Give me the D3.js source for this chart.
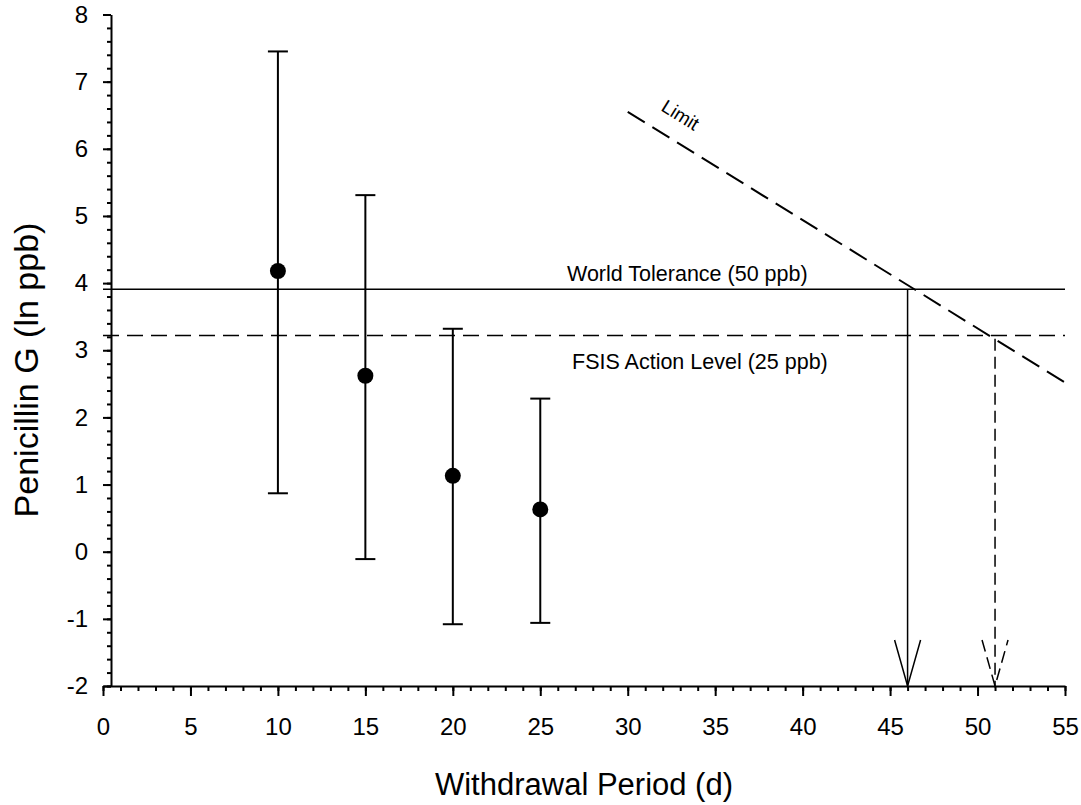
<!DOCTYPE html>
<html lang="en">
  <head>
      <meta charset="utf-8">
      <title>Penicillin G withdrawal</title>
      <script type="text/javascript" src="https://cdn.jsdelivr.net/npm/d3@7"></script>
      <style>
        body { margin: 0; background: #fff; }
        text { font-family: Arial, "Liberation Sans", sans-serif; }
      </style>
  </head>
  <body>
      <script type="text/javascript">

      // data
      var days  = [10, 15, 20, 25];
      var means = [4.18, 2.62, 1.13, 0.63];
      var upper = [7.45, 5.31, 3.32, 2.28];
      var lower = [0.87, -0.11, -1.08, -1.06];

      var worldTol = 3.91;   // ln 50
      var fsisLevel = 3.22;  // ln 25
      var limitX = [30, 55];
      var limitY = [6.55, 2.52];
      var arrowDays = [46, 51];

      var xTicks = [0, 5, 10, 15, 20, 25, 30, 35, 40, 45, 50, 55];
      var yTicks = [-2, -1, 0, 1, 2, 3, 4, 5, 6, 7, 8];

      var w = 1081;
      var h = 805;

      var svg = d3.select("body").append("svg").attr("width", w).attr("height", h);

      var x = d3.scaleLinear().domain([0, 55]).range([103, 1065]);
      var y = d3.scaleLinear().domain([-2, 8]).range([686, 14.5]);
      var yAxisX = 111;
      var plain = function(d){ return String(d); };  // keep hyphen minus like the original

      // x axis: minor ticks then major ticks with labels
      svg.append("g").attr("transform", "translate(0,686)")
        .call(d3.axisBottom(x).tickValues(d3.range(0, 56, 1)).tickSize(5).tickFormat(""))
        .call(function(g){ g.select(".domain").remove(); });
      svg.append("g").attr("transform", "translate(0,686)")
        .call(d3.axisBottom(x).tickValues(xTicks).tickSize(10).tickPadding(22).tickSizeOuter(0).tickFormat(plain))
        .attr("font-size", "24px").attr("font-family", "Arial, 'Liberation Sans', sans-serif");

      // y axis
      svg.append("g").attr("transform", "translate(" + yAxisX + ",0)")
        .call(d3.axisLeft(y).tickValues(d3.range(-2, 8.001, 0.2)).tickSize(4).tickFormat(""))
        .call(function(g){ g.select(".domain").remove(); });
      svg.append("g").attr("transform", "translate(" + yAxisX + ",0)")
        .call(d3.axisLeft(y).tickValues(yTicks).tickSize(8).tickPadding(15).tickSizeOuter(0).tickFormat(plain))
        .attr("font-size", "24px").attr("font-family", "Arial, 'Liberation Sans', sans-serif");

      svg.selectAll(".domain, .tick line").attr("stroke", "#000").attr("stroke-width", 2);

      // reference levels
      svg.append("line").attr("x1", x(0)).attr("x2", x(55))
        .attr("y1", y(worldTol)).attr("y2", y(worldTol))
        .attr("stroke", "#000").attr("stroke-width", 1.5);
      svg.append("line").attr("x1", x(0)).attr("x2", x(55))
        .attr("y1", y(fsisLevel)).attr("y2", y(fsisLevel))
        .attr("stroke", "#000").attr("stroke-width", 1.5).attr("stroke-dasharray", "16,8");

      svg.append("text").text("World Tolerance (50 ppb)")
        .attr("x", 567).attr("y", 281).attr("font-size", "21.5px");
      svg.append("text").text("FSIS Action Level (25 ppb)")
        .attr("x", 572).attr("y", 369).attr("font-size", "21.5px");

      // limit line
      svg.append("line").attr("x1", x(limitX[0])).attr("y1", y(limitY[0]))
        .attr("x2", x(limitX[1])).attr("y2", y(limitY[1]))
        .attr("stroke", "#000").attr("stroke-width", 2).attr("stroke-dasharray", "20,9");
      var ang = Math.atan2(y(limitY[1]) - y(limitY[0]), x(limitX[1]) - x(limitX[0])) * 180 / Math.PI;
      svg.append("text").text("Limit")
        .attr("transform", "translate(660,110) rotate(" + ang + ")")
        .attr("font-size", "19px");

      // arrows down to the axis
      var arrowTop = [worldTol, fsisLevel - 0.05];
      var arrowDash = [null, "12,6"];
      arrowDays.forEach(function(d, i){
        var g = svg.append("g").attr("stroke", "#000").attr("stroke-width", 1.5).attr("fill", "none");
        if (arrowDash[i]) g.attr("stroke-dasharray", arrowDash[i]);
        g.append("line").attr("x1", x(d)).attr("x2", x(d)).attr("y1", y(arrowTop[i])).attr("y2", y(-2));
        g.append("path").attr("d", "M" + (x(d) - 13) + "," + (y(-2) - 46) + "L" + x(d) + "," + y(-2) + "L" + (x(d) + 13) + "," + (y(-2) - 46));
      });

      // error bars
      var bars = svg.selectAll(".bar").data(days).enter().append("g").attr("class", "bar")
        .attr("stroke", "#000").attr("stroke-width", 2);
      bars.append("line").attr("x1", function(d){ return x(d); }).attr("x2", function(d){ return x(d); })
        .attr("y1", function(d, i){ return y(upper[i]); }).attr("y2", function(d, i){ return y(lower[i]); });
      bars.append("line").attr("x1", function(d){ return x(d) - 10; }).attr("x2", function(d){ return x(d) + 10; })
        .attr("y1", function(d, i){ return y(upper[i]); }).attr("y2", function(d, i){ return y(upper[i]); });
      bars.append("line").attr("x1", function(d){ return x(d) - 10; }).attr("x2", function(d){ return x(d) + 10; })
        .attr("y1", function(d, i){ return y(lower[i]); }).attr("y2", function(d, i){ return y(lower[i]); });

      // points
      svg.selectAll("circle").data(days).enter().append("circle")
        .attr("cx", function(d){ return x(d); })
        .attr("cy", function(d, i){ return y(means[i]); })
        .attr("r", 8).attr("fill", "#000");

      // axis titles
      svg.append("text").text("Withdrawal Period (d)")
        .attr("x", 584).attr("y", 795).attr("text-anchor", "middle").attr("font-size", "31px");
      svg.append("text").text("Penicillin G (ln ppb)")
        .attr("transform", "translate(38,370) rotate(-90)").attr("text-anchor", "middle").attr("font-size", "34px");

      </script>
  </body>
</html>
